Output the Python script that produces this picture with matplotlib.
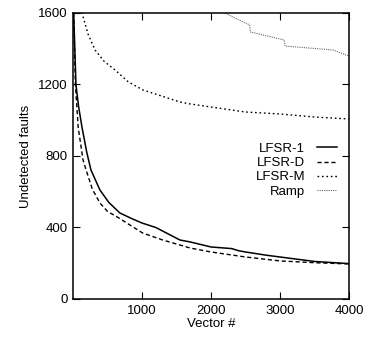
import matplotlib
matplotlib.use("Agg")
import matplotlib.pyplot as plt

# vectors applied vs. undetected faults
lfsr1_x = [0, 10, 43, 80, 130, 200, 260, 390, 520, 680, 850, 1000, 1200, 1550, 1700, 2000, 2300, 2400, 2500, 2800, 3000, 3500, 4000]
lfsr1_y = [2600, 1600, 1200, 1080, 962, 820, 722, 610, 540, 481, 450, 425, 400, 330, 319, 291, 282, 270, 263, 245, 235, 210, 198]

lfsrd_x = [0, 10, 35, 75, 145, 190, 280, 390, 500, 640, 1010, 1300, 1550, 1700, 2000, 2500, 3000, 3500, 4000]
lfsrd_y = [2600, 1600, 1200, 962, 778, 722, 615, 537, 490, 459, 369, 330, 302, 285, 263, 235, 213, 203, 196]

lfsrm_x = [0, 50, 130, 220, 320, 450, 610, 800, 1015, 1550, 1700, 2000, 2500, 3000, 3500, 4000]
lfsrm_y = [3000, 2200, 1600, 1480, 1393, 1330, 1281, 1215, 1169, 1102, 1091, 1074, 1046, 1035, 1018, 1007]

ramp_x = [1800, 2200, 2560, 2570, 3060, 3075, 3770, 4000]
ramp_y = [1700, 1600, 1533, 1494, 1449, 1415, 1393, 1359]

x_ticks = [1000, 2000, 3000, 4000]
y_ticks = [0, 400, 800, 1200, 1600]

plt.rcParams["font.family"] = ["Liberation Sans", "DejaVu Sans"]
plt.rcParams["font.size"] = 9.5

fig = plt.figure(figsize=(3.77, 3.37), dpi=100)
ax = fig.add_axes([0.1936, 0.1128, 0.732, 0.8487])

ax.plot(lfsr1_x, lfsr1_y, color="black", lw=1.1, ls="-", label="LFSR-1")
ax.plot(lfsrd_x, lfsrd_y, color="black", lw=1.0, ls=(0, (3, 2)), label="LFSR-D")
ax.plot(lfsrm_x, lfsrm_y, color="black", lw=1.0, ls=(0, (1.2, 2)), label="LFSR-M")
ax.plot(ramp_x, ramp_y, color="#666666", lw=0.8, ls=(0, (1, 1)), label="Ramp")

ax.set_xlim(0, 4000)
ax.set_ylim(0, 1600)
ax.set_xticks(x_ticks)
ax.set_yticks(y_ticks)
ax.tick_params(direction="in", length=5, top=True, right=True, width=0.8, pad=4)
for sp in ax.spines.values():
    sp.set_linewidth(1.1)

ax.set_xlabel("Vector #", labelpad=1)
ax.set_ylabel("Undetected faults", labelpad=4)

ax.legend(loc="upper right", bbox_to_anchor=(0.975, 0.565), frameon=False,
          markerfirst=False, handlelength=1.5, handletextpad=0.9,
          labelspacing=0.15, borderaxespad=0)

fig.savefig("out.png", dpi=100)
